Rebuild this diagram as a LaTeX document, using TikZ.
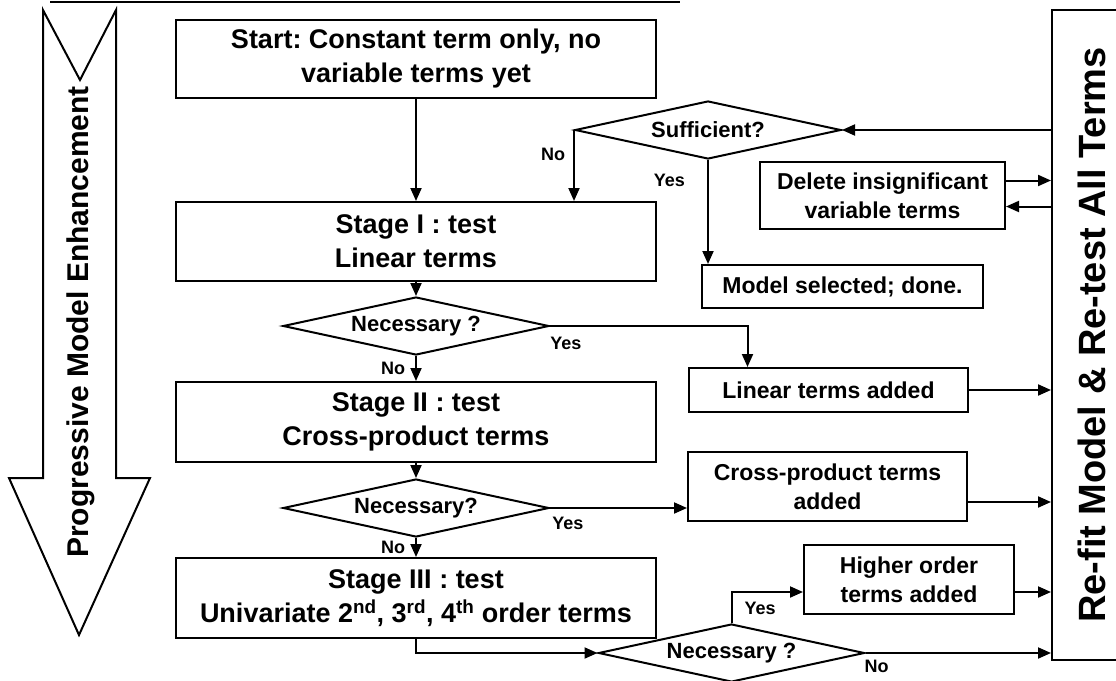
\documentclass[tikz,border=0pt]{standalone}
\usepackage{fontspec}
\setmainfont{Liberation Sans}
\usepackage{graphicx}
\usepackage{tikz}
\usetikzlibrary{arrows.meta,positioning,shapes.geometric}
\frenchspacing

\begin{document}
\begin{tikzpicture}[x=1pt,y=-1pt,
  box/.style={draw,line width=2pt,align=center,font=\fontsize{27}{34}\selectfont\bfseries,minimum width=480pt,inner sep=0pt},
  rbox/.style={draw,line width=2pt,align=center,font=\fontsize{23}{29}\selectfont\bfseries,inner sep=0pt},
  dia/.style={draw,diamond,aspect=4.6,line width=2pt,font=\fontsize{22}{26}\selectfont\bfseries,inner sep=0pt,minimum width=266pt,minimum height=58pt},
  f/.style={-{Triangle[length=13pt,width=11pt]},line width=2pt},
  lab/.style={font=\fontsize{18}{20}\selectfont\bfseries,inner sep=0pt}]
\useasboundingbox (0,0) rectangle (1116,680);
\draw[line width=2pt] (50,2) -- (680,2);
% big arrow on the left
\draw[line width=2pt] (43,10) -- (80,80) -- (116,10) -- (116,478) -- (150,478) -- (79,635) -- (9,478) -- (43,478) -- cycle;
\node[rotate=90,font=\fontsize{30}{32}\selectfont\bfseries] (prog) at (81,322) {Progressive Model Enhancement};
% main column
\node[box,minimum height=78pt] (start) at (416,59) {Start: Constant term only, no\\variable terms yet};
\node[box,minimum height=79pt,below=102pt of start] (stage1) {Stage I : test\\Linear terms};
\node[dia,below=14pt of stage1] (nec1) {Necessary ?};
\node[box,minimum height=80pt,below=25pt of nec1] (stage2) {Stage II : test\\Cross-product terms};
\node[dia,below=15pt of stage2] (nec2) {Necessary?};
\node[box,minimum height=80pt,below=19pt of nec2] (stage3) {Stage III : test\\Univariate 2\textsuperscript{nd}, 3\textsuperscript{rd}, 4\textsuperscript{th} order terms};
\draw[f] (start) -- (stage1); \draw[f] (stage1) -- (nec1);
\draw[f] (nec1) -- node[lab,left=10pt] (no1) {No} (stage2); \draw[f] (stage2) -- (nec2);
\draw[f] (nec2) -- node[lab,left=10pt] (no2) {No} (stage3);
% right side
\node[dia] (suff) at (708,130) {Sufficient?};
\node[rbox,minimum width=245pt,minimum height=67pt] (del) at (882.5,195.5) {Delete insignificant\\variable terms};
\node[rbox,minimum width=281pt,minimum height=43pt] (done) at (842.5,286.5) {Model selected; done.};
\node[rbox,minimum width=279pt,minimum height=44pt] (linadd) at (828.5,390) {Linear terms added};
\node[rbox,minimum width=279pt,minimum height=69pt] (crossadd) at (827.5,486.5) {Cross-product terms\\added};
\node[rbox,minimum width=210pt,minimum height=69pt] (highadd) at (909,579.5) {Higher order\\terms added};
\node[dia] (nec3) at (731.5,653) {Necessary ?};
\node[draw,line width=2pt,minimum width=80pt,minimum height=650pt,inner sep=0pt,font=\fontsize{38}{40}\selectfont\bfseries] (refit) at (1092,335) {\rotatebox{90}{Re-fit Model \& Re-test All Terms}};
\draw[f] (suff.west) -- node[lab,pos=0.35,left=8pt] (no0) {No} (suff.west |- stage1.north);
\draw[f] (suff.south) -- node[lab,pos=0.2,left=22pt] (yes0) {Yes} (suff.south |- done.north);
\draw[f] (nec1.east) -| node[lab,pos=0.04,below=10pt] (yes1) {Yes} ([xshift=-81pt]linadd.north);
\draw[f] (nec2.east) -- node[lab,pos=0.13,below=8pt] (yes2) {Yes} (nec2.east -| crossadd.west);
\draw[f] (stage3.south) |- (nec3.west);
\draw[f] (nec3.north) |- node[lab,pos=0.23,right=12pt] (yes3) {Yes} ([yshift=-12.5pt]highadd.west);
\draw[f] (nec3.east) -- node[lab,pos=0.06,below=6pt] (no3) {No} (nec3.east -| refit.west);
% into and out of the refit box
\draw[f] (suff.east -| refit.west) -- (suff.east);
\draw[f] ([yshift=15pt]del.east) -- ([yshift=15pt]del.east -| refit.west);
\draw[f] ([yshift=-11pt]del.east -| refit.west) -- ([yshift=-11pt]del.east);
\draw[f] (linadd.east) -- (linadd.east -| refit.west);
\draw[f] ([yshift=-15.5pt]crossadd.east) -- ([yshift=-15.5pt]crossadd.east -| refit.west);
\draw[f] ([yshift=-12.5pt]highadd.east) -- ([yshift=-12.5pt]highadd.east -| refit.west);
\end{tikzpicture}
\end{document}
